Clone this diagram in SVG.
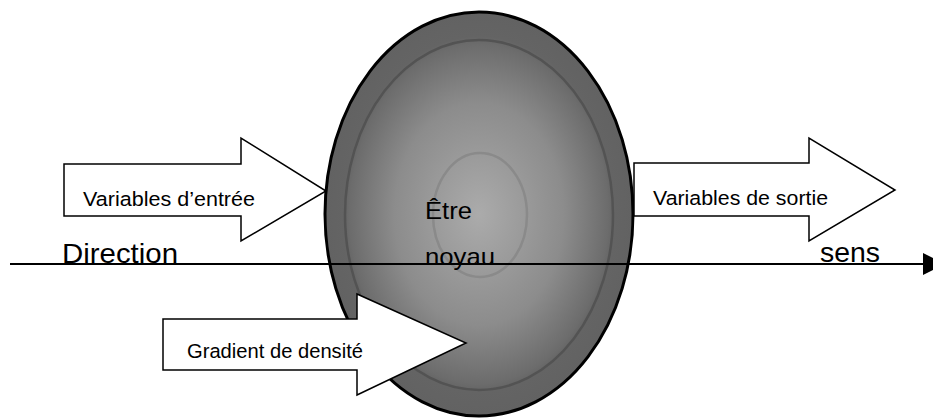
<svg xmlns="http://www.w3.org/2000/svg" width="933" height="418" viewBox="0 0 933 418">
  <style>
    .arrow { fill: #ffffff; stroke: #000000; stroke-width: 1.5; stroke-linejoin: miter; }
    .lbl { font-family: "Liberation Sans", Arial, sans-serif; font-size: 20.5px; fill: #000000; }
    .big { font-family: "Liberation Sans", Arial, sans-serif; font-size: 28.5px; fill: #000000; }
    .core { font-family: "Liberation Sans", Arial, sans-serif; font-size: 24px; fill: #000000; }
  </style>
  <defs>
    <radialGradient id="bodyGrad" cx="0.5" cy="0.5" r="0.5">
      <stop offset="0" stop-color="#ababab"/>
      <stop offset="0.55" stop-color="#8c8c8c"/>
      <stop offset="0.84" stop-color="#6c6c6c"/>
      <stop offset="0.88" stop-color="#646464"/>
      <stop offset="1" stop-color="#626262"/>
    </radialGradient>
    <marker id="head" viewBox="0 0 22 22" refX="0" refY="11" markerWidth="22" markerHeight="22" markerUnits="userSpaceOnUse" orient="auto">
      <path d="M0,0 L22,11 L0,22 z" fill="#000000"/>
    </marker>
  </defs>

  <g id="entree">
    <polygon class="arrow" points="64,164 241,164 241,138 326,191 241,241 241,216 64,216"/>
    <text class="lbl" x="83" y="206" textLength="172" lengthAdjust="spacingAndGlyphs">Variables d’entrée</text>
  </g>

  <g id="etre-noyau">
    <ellipse cx="479" cy="214" rx="154" ry="202" fill="url(#bodyGrad)" stroke="#000000" stroke-width="3"/>
    <ellipse cx="479" cy="215" rx="134" ry="175" fill="none" stroke="#535353" stroke-width="2.5"/>
    <ellipse cx="480" cy="215" rx="47" ry="62" fill="none" stroke="#8a8a8a" stroke-width="2.5"/>
    <text class="core" x="425" y="219" textLength="47" lengthAdjust="spacingAndGlyphs">Être</text>
    <text class="core" x="425" y="265" textLength="70" lengthAdjust="spacingAndGlyphs">noyau</text>
  </g>

  <g id="sortie">
    <polygon class="arrow" points="634,163 809,163 809,138 895,190 809,241 809,216 634,216"/>
    <text class="lbl" x="653" y="205" textLength="175" lengthAdjust="spacingAndGlyphs">Variables de sortie</text>
  </g>

  <g id="gradient">
    <polygon class="arrow" points="163,319 357,319 357,294 466,343 357,395 357,370 163,370"/>
    <text class="lbl" x="187" y="358" textLength="176" lengthAdjust="spacingAndGlyphs">Gradient de densité</text>
  </g>

  <g id="connectors">
    <line x1="10" y1="264" x2="923" y2="264" stroke="#000000" stroke-width="2" marker-end="url(#head)"/>
  </g>

  <g id="axis-labels">
    <text class="big" x="62" y="263" textLength="116" lengthAdjust="spacingAndGlyphs">Direction</text>
    <text class="big" x="820" y="262" textLength="60" lengthAdjust="spacingAndGlyphs">sens</text>
  </g>
</svg>
